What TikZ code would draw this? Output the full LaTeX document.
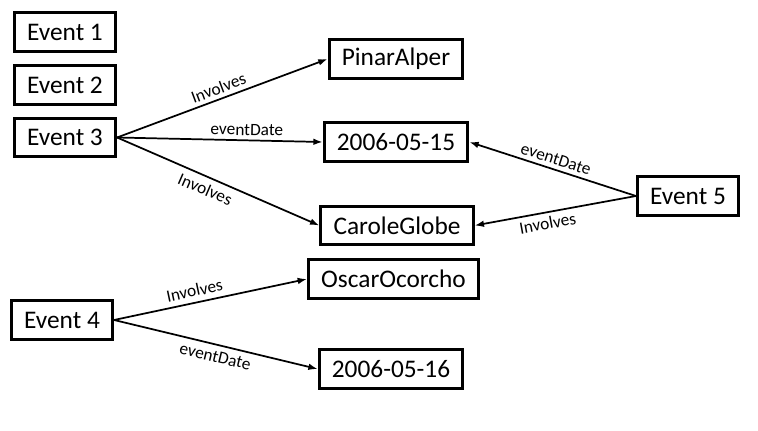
\documentclass[tikz,border=0pt]{standalone}
\usepackage{fontspec}
\setmainfont{Carlito}
\usetikzlibrary{arrows.meta, positioning}

\begin{document}
\begin{tikzpicture}[
    x=0.75pt, y=-0.75pt,
    % --- styles ---
    % 1. boxes
    itembox/.style={rectangle, draw=black, line width=2.3pt, minimum height=29pt, inner xsep=9.5pt, inner ysep=2pt, font=\fontsize{19}{21}\selectfont},
    % 2. arrows
    relarrow/.style={-{Latex[length=7pt, width=5pt]}, line width=1.3pt},
    % 3. labels
    reltext/.style={font=\fontsize{13}{15}\selectfont, sloped, inner sep=3pt}
]
\useasboundingbox (0,0) rectangle (758,431);

% === events ===
\node[itembox] (ev1) at (65, 32) {Event 1};
\node[itembox] (ev2) at (65, 85) {Event 2};
\node[itembox] (ev3) at (65, 137.5) {Event 3};
\node[itembox] (ev4) at (62, 320) {Event 4};
\node[itembox] (ev5) at (688, 196) {Event 5};

% === values ===
\node[itembox] (pinar) at (396, 59) {PinarAlper};
\node[itembox] (date15) at (396, 142) {2006-05-15};
\node[itembox] (carole) at (397, 225.5) {CaroleGlobe};
\node[itembox] (oscar) at (393.5, 279) {OscarOcorcho};
\node[itembox] (date16) at (391, 369) {2006-05-16};

% === relations ===
% Event 3
\draw[relarrow] (ev3.east) -- node[reltext, pos=0.5, above] {Involves} (pinar.west);
\draw[relarrow] (ev3.east) -- node[reltext, pos=0.63, above] {eventDate} (date15.west);
\draw[relarrow] (ev3.east) -- node[reltext, pos=0.46, below, inner sep=4pt] {Involves} (carole.west);

% Event 5
\draw[relarrow] (ev5.west) -- node[reltext, pos=0.5, above] {eventDate} (date15.east);
\draw[relarrow] (ev5.west) -- node[reltext, pos=0.56, below] {Involves} (carole.east);

% Event 4
\draw[relarrow] (ev4.east) -- node[reltext, pos=0.43, above, inner sep=4pt] {Involves} (oscar.west);
\draw[relarrow] (ev4.east) -- node[reltext, pos=0.51, below, inner sep=4pt] {eventDate} (date16.west);

\end{tikzpicture}
\end{document}
